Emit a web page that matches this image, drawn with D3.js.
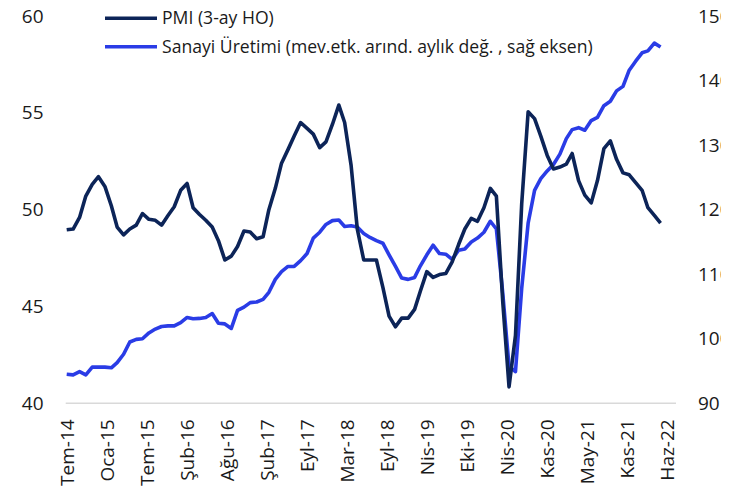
<!DOCTYPE html>
<html>
<head>
<meta charset="utf-8">
<script src="https://cdn.jsdelivr.net/npm/d3@7"></script>
<style>
  body { margin: 0; background: #fff; }
  text { font-family: "Open Sans", "Noto Sans", sans-serif; fill: #1a1a1a; }
</style>
</head>
<body>
<div id="chart"></div>
<script>
// Monthly data, Tem-14 .. May-22
var pmi = [48.96, 49.0, 49.6, 50.7, 51.3, 51.7, 51.2, 50.2, 49.1, 48.7,
  49.0, 49.2, 49.8, 49.5, 49.45, 49.2, 49.7, 50.15, 51.0, 51.35,
  50.1, 49.75, 49.45, 49.1, 48.4, 47.4, 47.6, 48.1, 48.9, 48.85,
  48.5, 48.6, 50.0, 51.1, 52.4, 53.1, 53.8, 54.5, 54.2, 53.9,
  53.2, 53.5, 54.4, 55.4, 54.5, 52.3, 49.0, 47.4, 47.4, 47.4,
  46.0, 44.5, 43.95, 44.4, 44.4, 44.85, 45.8, 46.8, 46.5, 46.65,
  46.7, 47.3, 48.2, 49.0, 49.55, 49.4, 50.1, 51.1, 50.7, 45.2,
  40.85, 43.5, 50.3, 55.05, 54.7, 53.8, 52.8, 52.1, 52.2, 52.35,
  52.9, 51.5, 50.75, 50.35, 51.5, 53.15, 53.55, 52.6, 51.9, 51.8,
  51.4, 51.0, 50.1, 49.7, 49.3];

var sanayi = [94.5, 94.4, 94.9, 94.4, 95.6, 95.6, 95.6, 95.5, 96.3, 97.6,
  99.5, 99.9, 100.0, 100.9, 101.5, 101.9, 102.0, 102.0, 102.5, 103.3,
  103.1, 103.15, 103.3, 103.9, 102.4, 102.3, 101.6, 104.4, 104.9, 105.6,
  105.7, 106.1, 107.2, 109.2, 110.4, 111.2, 111.2, 112.1, 113.2, 115.6,
  116.5, 117.7, 118.3, 118.4, 117.4, 117.5, 117.3, 116.3, 115.7, 115.2,
  114.8, 113.0, 111.2, 109.4, 109.2, 109.5, 111.3, 113.0, 114.5, 113.2,
  113.1, 112.3, 113.7, 113.9, 115.0, 115.6, 116.5, 118.2, 117.0, 107.0,
  95.7, 94.9, 107.8, 117.9, 123.0, 124.8, 126.0, 127.0, 128.6, 131.0,
  132.4, 132.7, 132.3, 133.8, 134.3, 136.1, 136.8, 138.4, 139.1, 141.6,
  143.0, 144.3, 144.6, 145.8, 145.2];

var tickLabels = ['Tem-14', 'Oca-15', 'Tem-15', 'Şub-16', 'Ağu-16', 'Şub-17', 'Eyl-17', 'Mar-18',
  'Eyl-18', 'Nis-19', 'Eki-19', 'Nis-20', 'Kas-20', 'May-21', 'Kas-21', 'Haz-22'];
var leftTicks = [40, 45, 50, 55, 60];
var rightTicks = [90, 100, 110, 120, 130, 140, 150];
var seriesNames = ['PMI (3-ay HO)', 'Sanayi Üretimi (mev.etk. arınd. aylık değ. , sağ eksen)'];

var width = 738, height = 495;
var colPmi = '#0c2458', colSan = '#2a3ce6';

var svg = d3.select('#chart').append('svg')
  .attr('width', width)
  .attr('height', height);

// the original picture is cut off at the right, through the right axis labels
svg.append('clipPath').attr('id', 'cut')
  .append('rect').attr('x', 0).attr('y', 0).attr('width', 721).attr('height', height);
var root = svg.append('g').attr('clip-path', 'url(#cut)');

var start = new Date(2014, 6, 1), end = new Date(2022, 5, 1);
var months = d3.timeMonth.range(start, end);

var x = d3.scaleTime().domain([start, end]).range([66.7, 667]);
var yL = d3.scaleLinear().domain([40, 60]).range([403.3, 16]);
var yR = d3.scaleLinear().domain([90, 150]).range([403.3, 16]);

// ticks evenly spaced across the axis (date axis style)
var tickDates = d3.range(tickLabels.length).map(function (k) {
  return new Date(+start + k * (end - start) / (tickLabels.length - 1));
});

// baseline
root.append('line')
  .attr('x1', x(start) - 1).attr('x2', x(end) + 9)
  .attr('y1', yL(40)).attr('y2', yL(40))
  .attr('stroke', '#d9d9d9').attr('stroke-width', 1.5);

// left axis
var leftAxis = root.append('g')
  .attr('transform', 'translate(43.5,0)')
  .call(d3.axisLeft(yL).tickValues(leftTicks).tickSize(0).tickPadding(0));
leftAxis.select('.domain').remove();
leftAxis.selectAll('text').style('font-size', '19px').attr('fill', '#1a1a1a');

// right axis
var rightAxis = root.append('g')
  .attr('transform', 'translate(698,0)')
  .call(d3.axisRight(yR).tickValues(rightTicks).tickSize(0).tickPadding(0));
rightAxis.select('.domain').remove();
rightAxis.selectAll('text').style('font-size', '19px').attr('fill', '#1a1a1a');

// bottom axis
var bottomAxis = root.append('g')
  .attr('transform', 'translate(0,' + yL(40) + ')')
  .call(d3.axisBottom(x).tickValues(tickDates).tickSize(0)
    .tickFormat(function (d, i) { return tickLabels[i]; }));
bottomAxis.select('.domain').remove();
bottomAxis.selectAll('text')
  .style('font-size', '19px')
  .attr('fill', '#1a1a1a')
  .attr('transform', 'rotate(-90)')
  .attr('x', -16)
  .attr('y', 0)
  .attr('dy', '0.35em')
  .style('text-anchor', 'end');

// lines
var linePmi = d3.line()
  .x(function (d, i) { return x(months[i]); })
  .y(function (d) { return yL(d); });
var lineSan = d3.line()
  .x(function (d, i) { return x(months[i]); })
  .y(function (d) { return yR(d); });

root.append('path').datum(sanayi)
  .attr('d', lineSan)
  .attr('fill', 'none')
  .attr('stroke', colSan)
  .attr('stroke-width', 3.6)
  .attr('stroke-linejoin', 'round');

root.append('path').datum(pmi)
  .attr('d', linePmi)
  .attr('fill', 'none')
  .attr('stroke', colPmi)
  .attr('stroke-width', 3.6)
  .attr('stroke-linejoin', 'round');

// legend
var legend = root.append('g').attr('transform', 'translate(105,18.3)');
var legendItems = legend.selectAll('.legendItem')
  .data(seriesNames)
  .enter().append('g')
  .attr('class', 'legendItem')
  .attr('transform', function (d, i) { return 'translate(0,' + i * 28.4 + ')'; });

legendItems.append('line')
  .attr('x1', 0).attr('x2', 52)
  .attr('stroke', function (d, i) { return i === 0 ? colPmi : colSan; })
  .attr('stroke-width', 3.6);

legendItems.append('text')
  .attr('x', 57)
  .attr('dy', '0.35em')
  .style('font-size', '17.6px')
  .text(function (d) { return d; });
</script>
</body>
</html>
